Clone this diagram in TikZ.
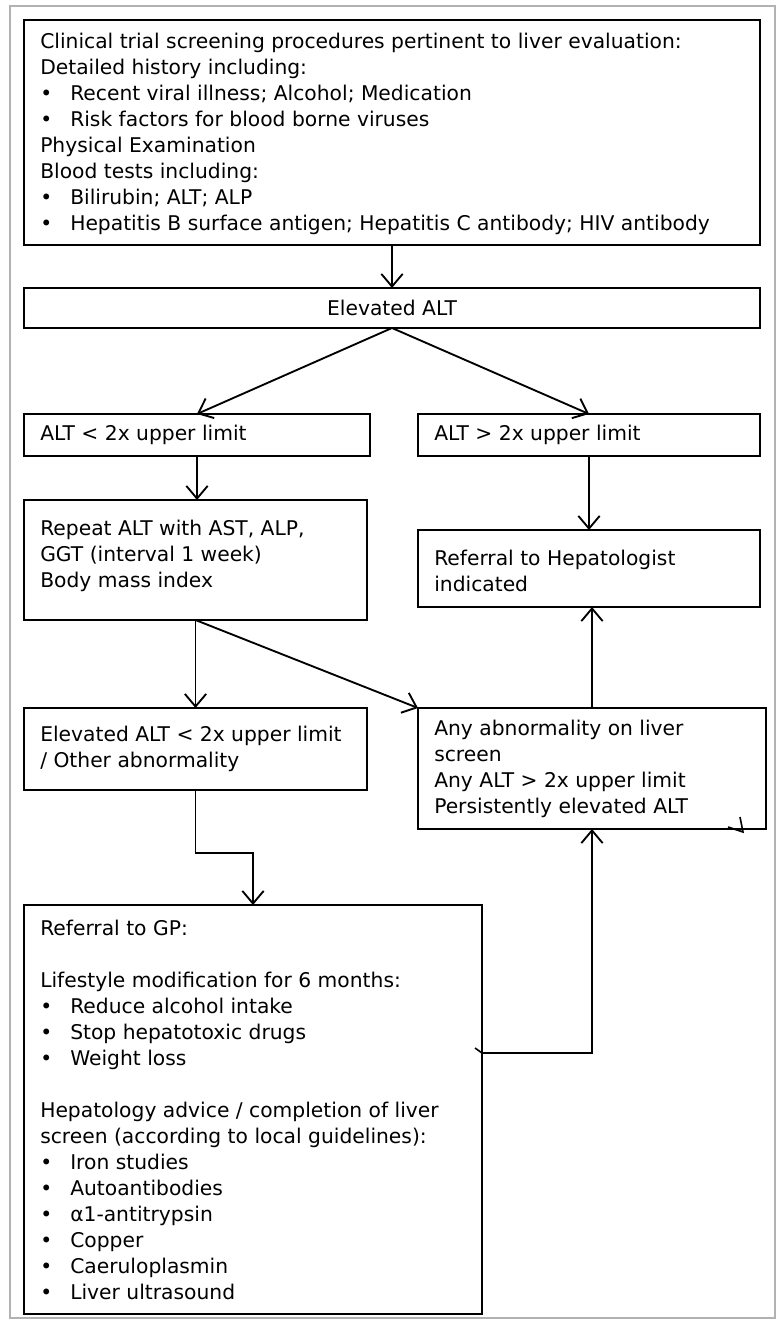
\documentclass[tikz,border=0pt]{standalone}
\usepackage{fontspec}
\setmainfont{DejaVu Sans}
\usetikzlibrary{arrows.meta,calc}
\newcommand\bl{\makebox[22.5pt][l]{•}}
\begin{document}
\begin{tikzpicture}[x=0.75pt,y=-0.75pt,
 box/.style={draw,line width=1.3pt,inner sep=0pt,outer sep=0pt,anchor=north west,font=\fontsize{15.2pt}{19.5pt}\selectfont},
 txt/.style={anchor=west,align=left,inner sep=0pt,font=\fontsize{15.2pt}{19.5pt}\selectfont},
 arr/.style={line width=1.4pt,-{Straight Barb[length=9.5pt,width=16pt]}},
 stray/.style={line width=1.2pt}]
\useasboundingbox (0,0) rectangle (780,1324);
\draw[gray!60,line width=0.8pt] (10,6) rectangle (775,1318);

\node[box,minimum width=552pt,minimum height=168.75pt] (top) at (24,20) {};
\node[txt] (toptxt) at ([xshift=12pt,yshift=-1pt]top.west) {Clinical trial screening procedures pertinent to liver evaluation:\\
Detailed history including:\\
\bl Recent viral illness; Alcohol; Medication\\
\bl Risk factors for blood borne viruses\\
Physical Examination\\
Blood tests including:\\
\bl Bilirubin; ALT; ALP\\
\bl Hepatitis B surface antigen; Hepatitis C antibody; HIV antibody};

\node[box,minimum width=552pt,minimum height=30pt] (elev) at (24,288) {};
\node[txt,anchor=center] (elevtxt) at (elev.center) {Elevated ALT};

\node[box,minimum width=259.5pt,minimum height=31.5pt] (lt) at (24,414) {};
\node[txt] (lttxt) at ([xshift=12pt]lt.west) {ALT < 2x upper limit};

\node[box,minimum width=256.5pt,minimum height=31.5pt] (gt) at (418,414) {};
\node[txt] (gttxt) at ([xshift=12pt]gt.west) {ALT > 2x upper limit};

\node[box,minimum width=257.25pt,minimum height=90pt] (rep) at (24,500) {};
\node[txt] (reptxt) at ([xshift=12pt,yshift=3pt]rep.west) {Repeat ALT with AST, ALP,\\GGT (interval 1 week)\\Body mass index};

\node[box,minimum width=256.5pt,minimum height=57.75pt] (hep) at (418,530) {};
\node[txt] (heptxt) at ([xshift=12pt,yshift=-2pt]hep.west) {Referral to Hepatologist\\indicated};

\node[box,minimum width=257.25pt,minimum height=61.5pt] (oth) at (24,708) {};
\node[txt] (othtxt) at ([xshift=12pt]oth.west) {Elevated ALT < 2x upper limit\\/ Other abnormality};

\node[box,minimum width=261pt,minimum height=90.75pt] (any) at (418,708) {};
\node[txt] (anytxt) at ([xshift=12pt]any.west) {Any abnormality on liver\\screen\\Any ALT > 2x upper limit\\Persistently elevated ALT};

\node[box,minimum width=343.5pt,minimum height=306.75pt] (gp) at (24,905) {};
\node[txt] (gptxt) at ([xshift=12pt]gp.west) {Referral to GP:\\[19.5pt]
Lifestyle modification for 6 months:\\
\bl Reduce alcohol intake\\
\bl Stop hepatotoxic drugs\\
\bl Weight loss\\[19.5pt]
Hepatology advice / completion of liver\\
screen (according to local guidelines):\\
\bl Iron studies\\
\bl Autoantibodies\\
\bl α1-antitrypsin\\
\bl Copper\\
\bl Caeruloplasmin\\
\bl Liver ultrasound};

\draw[arr] (top.south) -- (elev.north);
\draw[arr] (elev.south) -- (lt.north);
\draw[arr] (elev.south) -- (gt.north);
\draw[arr] (lt.south) -- (lt.south |- rep.north);
\draw[arr] (gt.south) -- (hep.north);
\draw[arr] (rep.south) -- (oth.north);
\draw[arr] (rep.south) -- (any.north west);
\draw[arr] (any.north) -- (any.north |- hep.south);
\draw[arr] (oth.south) -- ++(0,63) -| (gp.north);
\coordinate (gpout) at ($(gp.north east)+(0,148)$);
\draw[arr] (gpout) -| (any.south);
\draw[stray] ($(gpout)+(-7,-5)$) -- (gpout);
\draw[stray] (728,827) -- (743,832) -- (740,817);
\end{tikzpicture}
\end{document}
